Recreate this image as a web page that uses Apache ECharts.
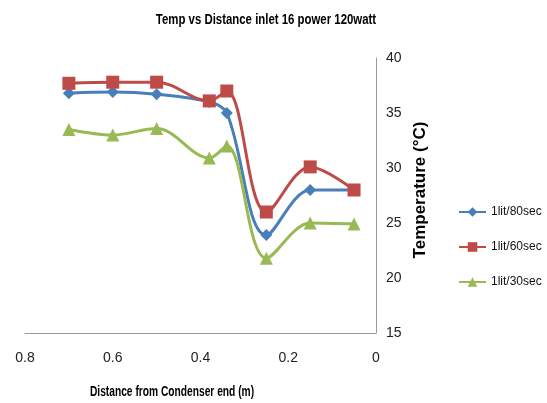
<!DOCTYPE html>
<html>
<head>
<meta charset="utf-8">
<script src="https://cdn.jsdelivr.net/npm/echarts@6/dist/echarts.min.js"></script>
<style>
html, body { margin: 0; padding: 0; background: #fff; }
#chart { width: 547px; height: 403px; }
</style>
</head>
<body>
<div id="chart"></div>
<script>
var distances = [0.7, 0.6, 0.5, 0.38, 0.34, 0.25, 0.15, 0.05];
var temp80 = [36.8, 36.9, 36.7, 36, 35, 23.9, 28, 28];
var temp60 = [37.7, 37.8, 37.8, 36.1, 37, 26, 30.1, 28];
var temp30 = [33.5, 33, 33.6, 30.9, 32, 21.8, 25, 24.9];
var seriesNames = ['1lit/80sec', '1lit/60sec', '1lit/30sec'];

var pairs = function(ys){
	var out = [];
	for (var i = 0; i < distances.length; i++) {
		out.push([distances[i], ys[i]]);
	}
	return out;
};

var font = "'Liberation Sans', Arial, sans-serif";
var myChart = echarts.init(document.getElementById('chart'));

var mkSeries = function(name, ys, color, symbol, size){
	return {
		name: name,
		type: 'line',
		data: pairs(ys),
		smooth: 0.35,
		symbol: symbol,
		symbolSize: size,
		lineStyle: { color: color, width: 3 },
		itemStyle: { color: color },
		z: 2
	};
};

// narrow text, a stand-in for Calibri
var label = function(text, x, y, size, sx, rot){
	return {
		type: 'text',
		x: x,
		y: y,
		scaleX: sx,
		rotation: rot || 0,
		style: {
			text: text,
			font: 'bold ' + size + 'px ' + font,
			fill: '#000',
			align: 'center',
			verticalAlign: 'middle'
		}
	};
};

var option = {
	animation: false,
	grid: { left: 25, right: 171, top: 58, bottom: 70 },
	legend: {
		orient: 'vertical',
		left: 453,
		top: 201,
		itemGap: 23,
		itemWidth: 27,
		itemHeight: 12,
		textStyle: { fontFamily: font, fontSize: 12, color: '#111' },
		data: seriesNames
	},
	xAxis: {
		type: 'value',
		min: 0,
		max: 0.8,
		interval: 0.2,
		inverse: true,
		axisLine: { lineStyle: { color: '#999' } },
		axisTick: { show: false },
		splitLine: { show: false },
		axisLabel: {
			fontFamily: font, fontSize: 14, color: '#222', margin: 18,
			formatter: function(v){ return String(Math.round(v * 10) / 10); }
		}
	},
	yAxis: {
		type: 'value',
		position: 'right',
		min: 15,
		max: 40,
		interval: 5,
		axisLine: { show: true, lineStyle: { color: '#999' } },
		axisTick: { show: false },
		splitLine: { show: false },
		axisLabel: { fontFamily: font, fontSize: 14, color: '#222', margin: 10 }
	},
	graphic: [
		label('Temp vs Distance inlet 16 power 120watt', 266, 20, 15, 0.76),
		label('Distance from Condenser end (m)', 172, 392, 14, 0.73),
		label('Temperature (°C)', 420, 190, 17, 1, Math.PI / 2)
	],
	series: [
		mkSeries(seriesNames[0], temp80, '#4A7EBB', 'diamond', 12),
		mkSeries(seriesNames[1], temp60, '#BE4B48', 'rect', 13),
		mkSeries(seriesNames[2], temp30, '#98B954', 'triangle', 13)
	]
};
myChart.setOption(option);
</script>
</body>
</html>
